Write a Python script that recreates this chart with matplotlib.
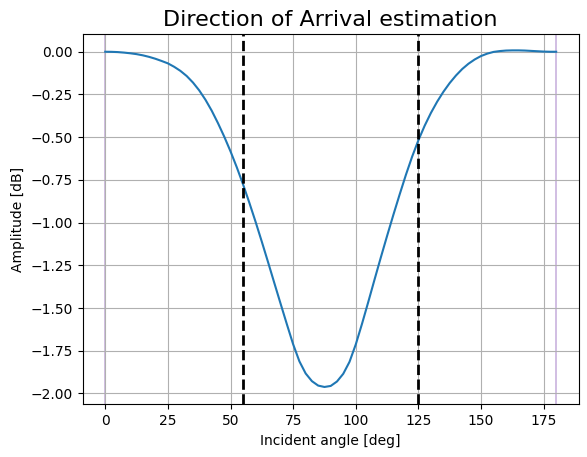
import matplotlib
matplotlib.use("Agg")
import matplotlib.pyplot as plt

angles = [0, 2.5, 5, 7.5, 10, 12.5, 15, 17.5, 20, 22.5, 25, 27.5, 30, 32.5,
          35, 37.5, 40, 42.5, 45, 47.5, 50, 52.5, 55, 57.5, 60, 62.5, 65,
          67.5, 70, 72.5, 75, 77.5, 80, 82.5, 85, 87.5, 90, 92.5, 95, 97.5,
          100, 102.5, 105, 107.5, 110, 112.5, 115, 117.5, 120, 122.5, 125,
          127.5, 130, 132.5, 135, 137.5, 140, 142.5, 145, 147.5, 150, 152.5,
          155, 157.5, 160, 162.5, 165, 167.5, 170, 172.5, 175, 177.5, 180]
amplitude = [0.000, -0.0005, -0.002, -0.005, -0.009, -0.014, -0.021, -0.030,
             -0.041, -0.054, -0.068, -0.088, -0.112, -0.142, -0.180, -0.226,
             -0.281, -0.345, -0.418, -0.497, -0.583, -0.676, -0.776, -0.883,
             -0.995, -1.112, -1.232, -1.354, -1.475, -1.595, -1.712, -1.812,
             -1.883, -1.928, -1.954, -1.962, -1.956, -1.930, -1.885, -1.815,
             -1.713, -1.592, -1.464, -1.333, -1.204, -1.078, -0.955, -0.836,
             -0.721, -0.614, -0.518, -0.433, -0.358, -0.292, -0.234, -0.183,
             -0.139, -0.101, -0.070, -0.045, -0.025, -0.011, -0.001, 0.004,
             0.007, 0.008, 0.008, 0.007, 0.005, 0.003, 0.001, 0.000, 0.000]
doa_lines = [55, 125]
range_lines = [0, 180]

fig = plt.figure(figsize=(5.87, 4.57), dpi=100)
ax = fig.add_axes([0.1409, 0.1153, 0.845, 0.8096])
ax.plot(angles, amplitude, color="C0", lw=1.5)
for a in range_lines:
    ax.axvline(a, color="C4", alpha=0.5, lw=1.2, zorder=1)
for a in doa_lines:
    ax.axvline(a, color="black", ls="--", lw=2)
ax.set_xlim(-9, 189)
ax.set_ylim(-2.0635, 0.102)
ax.grid(True)
ax.set_title("Direction of Arrival estimation", fontsize=16)
ax.set_xlabel("Incident angle [deg]")
ax.set_ylabel("Amplitude [dB]")
fig.savefig("out.png", dpi=100)
